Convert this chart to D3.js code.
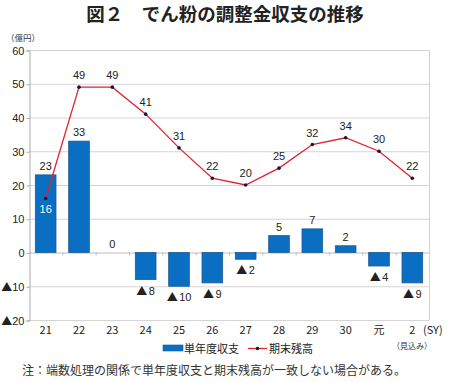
<!DOCTYPE html>
<html><head><meta charset="utf-8">
<script src="https://cdn.jsdelivr.net/npm/d3@7"></script>
<style>body{margin:0;background:#fff;}svg{display:block;font-family:"Noto Sans CJK JP","Noto Sans",sans-serif;}</style>
</head><body><svg id="c" width="450" height="382"></svg>
<script>
const categories = ["21","22","23","24","25","26","27","28","29","30","元","2"];
const balance = [23,33,0,-8,-10,-9,-2,5,7,2,-4,-9];
const endBalance = [16,49,49,41,31,22,20,25,32,34,30,22];
const yTicks = [60,50,40,30,20,10,0,-10,-20];

const svg = d3.select("#c");
const L=29, R=429, T=50, B=320;
const NUMF = "Arial, 'Liberation Sans', sans-serif";
const x = d3.scaleBand().domain(categories).range([L,R]).paddingInner(0.38).paddingOuter(0.19);
const xc = d3.scaleBand().domain(categories).range([L,R]);
const y = d3.scaleLinear().domain([-20,60]).range([B,T]);
function putNum(sel, v, gap){
  sel.text(null);
  if(v<0){
    sel.append("tspan").attr("font-family","'Noto Sans CJK JP',sans-serif").attr("font-size","1em").text("▲");
    sel.append("tspan").attr("dx",gap).text(Math.abs(v));
  } else sel.text(v);
}

svg.append("text").attr("x",225).attr("y",21).attr("text-anchor","middle")
  .attr("font-size",18.5).attr("font-weight","bold").attr("fill","#222").text("図２　でん粉の調整金収支の推移");
svg.append("text").attr("x",6).attr("y",41).attr("font-size",8.5).attr("fill","#333").text("（億円）");

// grid
svg.append("g").selectAll("line").data(yTicks).join("line")
  .attr("x1",L).attr("x2",R).attr("y1",d=>y(d)+0.5).attr("y2",d=>y(d)+0.5)
  .attr("stroke",d=>d===0?"#bbb":"#d4d4d4").attr("stroke-width",1);
svg.append("line").attr("x1",R+0.5).attr("x2",R+0.5).attr("y1",T).attr("y2",B).attr("stroke","#d4d4d4");

// y axis
const ya = d3.axisLeft(y).tickValues(yTicks).tickSize(3).tickPadding(2);
const yg = svg.append("g").attr("transform",`translate(${L+0.5},0.5)`).call(ya);
yg.select(".domain").attr("stroke","#aaa");
yg.selectAll(".tick line").attr("stroke","#aaa");
yg.selectAll(".tick text").attr("font-size",11).attr("fill","#222").attr("font-family",NUMF)
  .each(function(d){ putNum(d3.select(this), d, 0); });

// zero-line category ticks
svg.append("g").selectAll("line").data(categories.slice(1)).join("line")
  .attr("x1",d=>xc(d)+0.5).attr("x2",d=>xc(d)+0.5).attr("y1",y(0)).attr("y2",y(0)+3).attr("stroke","#bbb");

// x labels
svg.append("g").selectAll("text").data(categories).join("text")
  .attr("x",d=>xc(d)+xc.bandwidth()/2).attr("y",334).attr("text-anchor","middle")
  .attr("font-size",11).attr("fill","#222").text(d=>d);
svg.append("text").attr("x",423).attr("y",334).attr("font-size",11).attr("fill","#222").text("(SY)");
svg.append("text").attr("x",412).attr("y",349).attr("text-anchor","middle").attr("font-size",8).attr("fill","#333").text("（見込み）");

// bars
svg.append("g").selectAll("rect").data(balance.map((v,i)=>({c:categories[i],v})).filter(d=>d.v!==0)).join("rect")
  .attr("x",d=>x(d.c)).attr("width",x.bandwidth())
  .attr("y",d=>y(Math.max(0,d.v))).attr("height",d=>Math.abs(y(d.v)-y(0)))
  .attr("fill","#0a6fc2").attr("stroke","#1d5a94").attr("stroke-width",0.8);

// bar labels
svg.append("g").selectAll("text").data(balance.map((v,i)=>({c:categories[i],v}))).join("text")
  .attr("x",d=>x(d.c)+x.bandwidth()/2)
  .attr("y",d=>d.v>=0 ? y(d.v)-5 : y(d.v)+15)
  .attr("text-anchor","middle").attr("font-size",11).attr("fill","#222")
  .attr("font-family",NUMF).each(function(d){ putNum(d3.select(this), d.v, 1.5); });

// line
const pts = endBalance.map((v,i)=>({c:categories[i],v}));
const cx = d=>xc(d.c)+xc.bandwidth()/2;
svg.append("path").datum(pts).attr("fill","none").attr("stroke","#e2232f").attr("stroke-width",1.3)
  .attr("d",d3.line().x(cx).y(d=>y(d.v)));
svg.append("g").selectAll("circle").data(pts).join("circle")
  .attr("cx",cx).attr("cy",d=>y(d.v)).attr("r",1.8).attr("fill","#0b1a40");
svg.append("g").selectAll("text").data(pts).join("text")
  .attr("x",cx).attr("y",(d,i)=>i===0 ? y(d.v)+14 : y(d.v)-8)
  .attr("text-anchor","middle").attr("font-size",11).attr("fill",(d,i)=>i===0?"#fff":"#222")
  .attr("font-family",NUMF).text(d=>d.v);

// legend
svg.append("rect").attr("x",163).attr("y",345).attr("width",20).attr("height",6).attr("fill","#0a6fc2").attr("stroke","#1d5a94").attr("stroke-width",0.6);
svg.append("text").attr("x",184).attr("y",352.5).attr("font-size",11).attr("fill","#222").text("単年度収支");
svg.append("line").attr("x1",248).attr("x2",267).attr("y1",348.5).attr("y2",348.5).attr("stroke","#e2232f").attr("stroke-width",1.3);
svg.append("circle").attr("cx",257.5).attr("cy",348.5).attr("r",1.8).attr("fill","#0b1a40");
svg.append("text").attr("x",269).attr("y",352.5).attr("font-size",11).attr("fill","#222").text("期末残高");

svg.append("text").attr("x",22).attr("y",375).attr("font-size",12).attr("fill","#333").text("注：端数処理の関係で単年度収支と期末残高が一致しない場合がある。");
</script></body></html>
